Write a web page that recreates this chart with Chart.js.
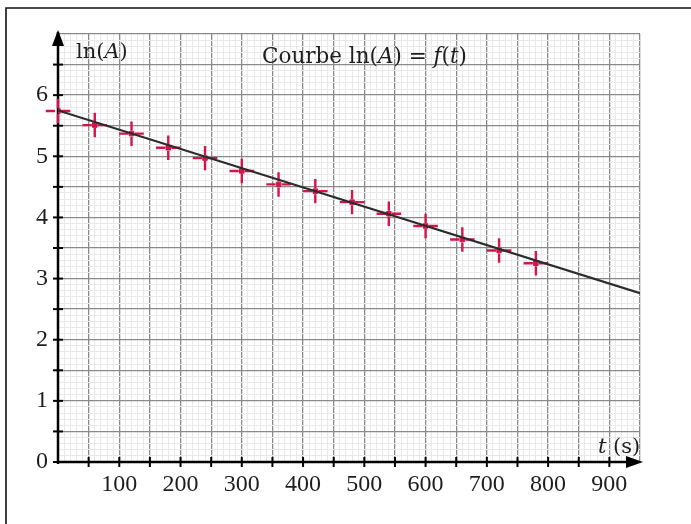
<!DOCTYPE html>
<html><head><meta charset="utf-8">
<script src="https://cdn.jsdelivr.net/npm/chart.js@4"></script>
<style>html,body{margin:0;padding:0;background:#fff;overflow:hidden}canvas{display:block}</style>
</head><body>
<canvas id="c" width="691" height="524"></canvas>
<script>
// ---- data ----
const times = [0, 60, 120, 180, 240, 300, 360, 420, 480, 540, 600, 660, 720, 780];
const lnA   = [5.74, 5.51, 5.37, 5.14, 4.97, 4.76, 4.54, 4.43, 4.25, 4.06, 3.86, 3.64, 3.46, 3.25];
const errT = 20;      // s
const errLnA = 0.2;
const fitT = [0, 950];
const fitLnA = [5.75, 2.76];
const xTickLabels = [100, 200, 300, 400, 500, 600, 700, 800, 900];
const yTickLabels = [0, 1, 2, 3, 4, 5, 6];

const RED = '#d3154c';
const TICKFONT = {family: 'Liberation Serif', size: 24};
const LABELFONT = '"DejaVu Serif"';

const isMult = (v, m) => Math.abs(v / m - Math.round(v / m)) < 1e-6;

const decor = {
  id: 'decor',
  beforeDatasetsDraw(chart) {
    const ctx = chart.ctx, xs = chart.scales.x, ys = chart.scales.y;
    const x0 = xs.getPixelForValue(0), y0 = ys.getPixelForValue(0);
    const xr = xs.right, yt = ys.top;
    ctx.save();
    // frame
    ctx.strokeStyle = '#111'; ctx.lineWidth = 1.6;
    ctx.beginPath(); ctx.moveTo(6, 530); ctx.lineTo(6, 8); ctx.lineTo(700, 8); ctx.stroke();
    // axes
    ctx.strokeStyle = '#000'; ctx.fillStyle = '#000'; ctx.lineWidth = 2.5;
    ctx.beginPath(); ctx.moveTo(x0, y0 + 2); ctx.lineTo(x0, yt - 2); ctx.stroke();
    ctx.beginPath(); ctx.moveTo(x0 - 1, y0); ctx.lineTo(xr - 4, y0); ctx.stroke();
    // arrows
    ctx.beginPath(); ctx.moveTo(x0, yt - 4); ctx.lineTo(x0 - 6, yt + 12); ctx.lineTo(x0 + 6, yt + 12); ctx.closePath(); ctx.fill();
    ctx.beginPath(); ctx.moveTo(xr + 3, y0); ctx.lineTo(xr - 14, y0 - 6); ctx.lineTo(xr - 14, y0 + 6); ctx.closePath(); ctx.fill();
    // tick marks
    ctx.lineWidth = 2;
    xs.ticks.forEach(t => {
      if (t.value > 0 && t.value < 950 && isMult(t.value, 50)) {
        const px = xs.getPixelForValue(t.value);
        ctx.beginPath(); ctx.moveTo(px, y0 - 5); ctx.lineTo(px, y0 + 5); ctx.stroke();
      }
    });
    ys.ticks.forEach(t => {
      if (t.value < 6.9 && isMult(t.value, 0.5)) {
        const py = ys.getPixelForValue(t.value);
        ctx.beginPath(); ctx.moveTo(x0 - 5, py); ctx.lineTo(x0 + 5, py); ctx.stroke();
      }
    });
    // error crosses
    ctx.strokeStyle = RED; ctx.lineWidth = 2.4;
    times.forEach((t, i) => {
      const cx = xs.getPixelForValue(t), cy = ys.getPixelForValue(lnA[i]);
      const x1 = xs.getPixelForValue(t - errT), x2 = xs.getPixelForValue(t + errT);
      const y1 = ys.getPixelForValue(lnA[i] + errLnA), y2 = ys.getPixelForValue(lnA[i] - errLnA);
      ctx.beginPath();
      ctx.moveTo(x1, cy); ctx.lineTo(cx - 3, cy);
      ctx.moveTo(cx + 3, cy); ctx.lineTo(x2, cy);
      ctx.moveTo(cx, y1); ctx.lineTo(cx, cy - 3);
      ctx.moveTo(cx, cy + 3); ctx.lineTo(cx, y2);
      ctx.stroke();
    });
    ctx.restore();
  },
  afterDraw(chart) {
    const ctx = chart.ctx;
    ctx.save();
    ctx.fillStyle = '#1e1e1e';
    ctx.textBaseline = 'alphabetic';
    const seg = (parts, x, y, size) => {
      parts.forEach(([s, it]) => {
        ctx.font = (it ? 'italic ' : '') + size + 'px ' + LABELFONT;
        ctx.fillText(s, x, y);
        x += ctx.measureText(s).width;
      });
    };
    seg([['ln(', false], ['A', true], [')', false]], 76, 58, 21);
    seg([['Courbe ln(', false], ['A', true], [') = ', false], ['f', true], ['(', false], ['t', true], [')', false]], 262, 63, 21.5);
    seg([['t', true], [' (s)', false]], 598, 453, 21);
    ctx.restore();
  }
};

new Chart(document.getElementById('c'), {
  type: 'scatter',
  data: {
    datasets: [
      {
        label: 'ajustement',
        data: fitT.map((t, i) => ({x: t, y: fitLnA[i]})),
        showLine: true, borderColor: '#2b2b2b', borderWidth: 2.2, pointRadius: 0, fill: false
      },
      {
        label: 'ln(A)',
        data: times.map((t, i) => ({x: t, y: lnA[i]})),
        pointStyle: 'rect', pointRadius: 3.2, backgroundColor: RED, borderColor: RED, borderWidth: 1
      }
    ]
  },
  options: {
    responsive: false, animation: false, devicePixelRatio: 1,
    layout: {padding: {left: 0, top: 34, right: 51, bottom: 0}},
    plugins: {legend: {display: false}, tooltip: {enabled: false}, title: {display: false}},
    scales: {
      x: {
        type: 'linear', min: 0, max: 950,
        border: {display: false},
        grid: {
          drawTicks: false,
          color: c => isMult(c.tick.value, 50) ? '#8a8a8a' : '#e9e9e9',
          lineWidth: c => isMult(c.tick.value, 50) ? 1.3 : 1
        },
        ticks: {
          stepSize: 10, autoSkip: false, maxRotation: 0, minRotation: 0,
          padding: 8, color: '#1e1e1e', font: TICKFONT,
          callback: v => xTickLabels.includes(Math.round(v)) && isMult(v, 100) ? String(Math.round(v)) : ''
        },
        afterFit: s => { s.height = 62; }
      },
      y: {
        type: 'linear', min: 0, max: 7,
        border: {display: false},
        grid: {
          drawTicks: false,
          color: c => isMult(c.tick.value, 0.5) ? '#8a8a8a' : '#e9e9e9',
          lineWidth: c => isMult(c.tick.value, 0.5) ? 1.3 : 1
        },
        ticks: {
          stepSize: 0.1, autoSkip: false,
          padding: 10, color: '#1e1e1e', font: TICKFONT,
          callback: v => isMult(v, 1) && yTickLabels.includes(Math.round(v)) ? String(Math.round(v)) : ''
        },
        afterFit: s => { s.width = 58; }
      }
    }
  },
  plugins: [decor]
});
</script>
</body></html>
